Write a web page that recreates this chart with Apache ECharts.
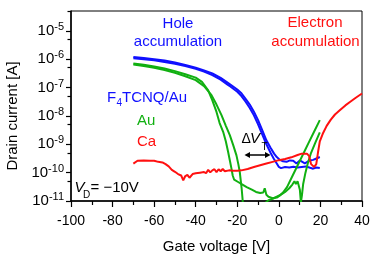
<!DOCTYPE html>
<html><head><meta charset="utf-8">
<script src="https://cdn.jsdelivr.net/npm/echarts@6/dist/echarts.min.js"></script>
<style>html,body{margin:0;padding:0;background:#fff}#c{width:374px;height:259px}</style>
</head><body><div id="c"></div>
<script>
// x axis (gate voltage, V)
const xMin = -100, xMax = 40, xStep = 20;
// y axis: log10 of drain current [A]
const yDecades = [-11, -10, -9, -8, -7, -6, -5];
const yMinorTicks = [-10.301, -9.301, -8.301, -7.301, -6.301, -5.301, -4.301];
const yMin = -11, yMax = -4.301;

// F4TCNQ/Au (blue): [gate voltage V, log10 I]
const f4tcnqSweepA = [[-70,-5.92],[-65,-5.96],[-60,-6.0],[-55,-6.05],[-50,-6.12],[-45,-6.2],[-40,-6.3],[-36,-6.4],[-32,-6.5],[-28,-6.66],[-24,-6.86],[-20,-7.07],[-18,-7.2],[-16,-7.4],[-14,-7.6],[-12,-7.85],[-10,-8.15],[-8,-8.5],[-6,-8.86],[-4,-9.12],[-2.3,-9.33],[-1,-9.45],[0.5,-9.55],[2,-9.6],[3.7,-9.62],[5.3,-9.57],[6.9,-9.58],[8.5,-9.68],[10.1,-9.57],[12.5,-9.67],[14.9,-9.57],[16.5,-9.55],[18.1,-9.5],[19.7,-9.45]];
const f4tcnqSweepB = [[-70,-5.97],[-65,-6.0],[-60,-6.04],[-55,-6.1],[-50,-6.16],[-45,-6.24],[-40,-6.34],[-36,-6.44],[-32,-6.56],[-28,-6.72],[-24,-6.93],[-20,-7.15],[-18,-7.3],[-16,-7.5],[-14,-7.72],[-12,-7.98],[-10,-8.3],[-8,-8.65],[-6,-9.0],[-4,-9.3],[-2.5,-9.5],[-1,-9.68],[0,-9.8],[1,-9.84],[3,-9.8],[5,-9.82],[7,-9.79],[9,-9.82],[11,-9.8],[13,-9.78],[15,-9.83],[16.5,-9.86],[18,-9.82],[19.7,-9.84]];

// Au (green)
const auSweepA = [[-70,-6.15],[-65,-6.2],[-60,-6.26],[-55,-6.33],[-50,-6.42],[-45,-6.53],[-40,-6.65],[-37,-6.8],[-34,-7.1],[-32,-7.45],[-30,-7.86],[-28.5,-8.25],[-26.8,-8.56],[-25.5,-8.9],[-24.4,-9.27],[-23.5,-9.6],[-22.8,-9.86],[-22.2,-10.1],[-21.5,-10.25],[-19.6,-10.33],[-17.5,-10.42],[-15.5,-10.51],[-13,-10.6],[-11,-10.68],[-9,-10.72],[-7.5,-10.7],[-6.8,-10.55],[-6,-10.78],[-5,-10.85],[-3,-10.9],[-1,-10.88],[0.5,-10.8],[2,-10.7],[4,-10.5],[6,-10.2],[8,-9.9],[10,-9.6],[12,-9.3],[14.3,-8.95],[17,-8.55],[19.7,-8.15]];
const auSweepB = [[-70,-6.19],[-65,-6.24],[-60,-6.3],[-55,-6.38],[-50,-6.48],[-45,-6.6],[-40,-6.74],[-36,-6.95],[-32.4,-7.27],[-30,-7.6],[-27.6,-7.97],[-25.5,-8.35],[-23.6,-8.68],[-22,-9.02],[-20.4,-9.39],[-19.5,-9.7],[-18.8,-9.98],[-18.3,-10.3],[-17.9,-10.56],[-17.5,-10.9],[-17.2,-11.2],[-12,-11.4],[-7,-11.1],[-5,-10.97],[-3,-10.92],[-1,-10.85],[1,-10.78],[3,-10.68],[5,-10.55],[6.5,-10.42],[7.5,-10.3],[8.2,-10.4],[9,-10.3],[9.6,-10.28],[10.1,-10.6],[10.6,-11.05],[11.1,-10.8],[11.7,-10.4],[12.8,-10.0],[14,-9.65],[15.5,-9.3],[17.5,-8.95],[19.7,-8.58]];

// Ca (red)
const caSweep = [[-70,-9.68],[-68,-9.58],[-65,-9.57],[-62,-9.58],[-60,-9.58],[-58,-9.62],[-56,-9.64],[-54.5,-9.7],[-53,-9.78],[-51.5,-9.9],[-50,-9.97],[-48.5,-10.05],[-47,-10.1],[-46,-10.27],[-45,-10.12],[-44,-10.08],[-43,-10.18],[-41.5,-10.05],[-40,-10.02],[-38,-10.0],[-36,-9.98],[-35,-10.02],[-34,-9.9],[-33,-9.99],[-32,-9.92],[-31,-9.88],[-30,-9.98],[-29,-9.88],[-28,-9.95],[-27,-9.87],[-26,-9.95],[-24,-9.92],[-22,-9.93],[-20,-9.93],[-18,-9.92],[-15,-9.87],[-12,-9.8],[-9,-9.74],[-6,-9.68],[-3,-9.62],[0,-9.56],[3,-9.52],[6,-9.46],[9,-9.38],[11,-9.33],[13.5,-9.33],[14.6,-9.42],[15.5,-9.7],[17,-9.8],[18,-9.7],[18.8,-9.3],[19.7,-8.9],[21.3,-8.6],[23,-8.35],[25,-8.13],[27,-7.95],[29.3,-7.8],[32,-7.63],[34.2,-7.51],[37,-7.36],[40,-7.21]];

const FONT = '"Liberation Sans", Arial, sans-serif';
const BLUE = '#1010ff', GREEN = '#11b011', RED = '#ff1010';

const chart = echarts.init(document.getElementById('c'), null, {renderer: 'canvas'});
function line(data, color) {
  return {type: 'line', data: data, showSymbol: false, symbol: 'none', clip: true,
    lineStyle: {color: color, width: 2}, itemStyle: {color: color}, animation: false};
}
function txt(x, y, text, size, color, opts) {
  opts = opts || {};
  return {type: 'text', x: x, y: y, silent: true, z: 100,
    style: {text: text, fill: color, font: (opts.italic ? 'italic ' : '') + size + 'px ' + FONT,
      textAlign: opts.align || 'left', textVerticalAlign: 'middle'}};
}
const option = {
  animation: false,
  grid: {left: 71, top: 11, width: 291, height: 190, show: true, borderColor: '#000', borderWidth: 1, backgroundColor: 'transparent'},
  xAxis: {type: 'value', min: xMin, max: xMax, interval: xStep,
    name: 'Gate voltage [V]', nameLocation: 'middle', nameGap: 38,
    nameTextStyle: {fontFamily: FONT, fontSize: 15, color: '#000'},
    axisLine: {onZero: false, lineStyle: {color: '#000', width: 1.5}},
    axisTick: {show: true, length: 6, lineStyle: {color: '#000', width: 1.2}},
    minorTick: {show: true, splitNumber: 2, length: 4, lineStyle: {color: '#000', width: 1.2}},
    splitLine: {show: false},
    axisLabel: {fontFamily: FONT, fontSize: 14, color: '#000', margin: 13}},
  yAxis: [{type: 'value', min: yMin, max: yMax,
    axisLine: {onZero: false, lineStyle: {color: '#000', width: 1.5}},
    axisTick: {show: true, length: 5, customValues: yDecades, lineStyle: {color: '#000', width: 1.2}},
    splitLine: {show: false},
    axisLabel: {customValues: yDecades, margin: 7, color: '#000',
      formatter: function (v) { return '{b|10}{s|' + Math.round(v) + '}'; },
      rich: {b: {fontFamily: FONT, fontSize: 15, lineHeight: 15, padding: [5, 0, 0, 0], verticalAlign: 'bottom', color: '#000'},
             s: {fontFamily: FONT, fontSize: 11, lineHeight: 11, padding: [0, 0, 6, 0], verticalAlign: 'bottom', color: '#000'}}}},
   {type: 'value', min: yMin, max: yMax, position: 'left',
    axisLine: {show: false, onZero: false}, axisLabel: {show: false}, splitLine: {show: false},
    axisTick: {show: true, length: 3.5, customValues: yMinorTicks, lineStyle: {color: '#000', width: 1.2}}}],
  series: [line(f4tcnqSweepA, BLUE), line(f4tcnqSweepB, BLUE),
           line(auSweepA, GREEN), line(auSweepB, GREEN), line(caSweep, RED)],
  graphic: [
    {type: 'text', x: 13, y: 116, rotation: Math.PI / 2, silent: true,
      style: {text: 'Drain current [A]', fill: '#000', font: '15px ' + FONT, textAlign: 'center', textVerticalAlign: 'middle'}},
    txt(178, 24, 'Hole', 15, BLUE, {align: 'center'}),
    txt(178, 42, 'accumulation', 15, BLUE, {align: 'center'}),
    txt(315, 23, 'Electron', 15, RED, {align: 'center'}),
    txt(315.5, 42, 'accumulation', 15, RED, {align: 'center'}),
    txt(107, 98, 'F', 15, BLUE),
    txt(116.5, 103, '4', 10, BLUE),
    txt(122, 98, 'TCNQ/Au', 15, BLUE),
    txt(137, 121, 'Au', 15, GREEN),
    txt(137, 141.5, 'Ca', 15, RED),
    txt(74.5, 187.5, 'V', 15, '#000', {italic: true}),
    txt(83, 195, 'D', 10, '#000'),
    txt(90.5, 187.5, '= \u221210V', 15, '#000'),
    txt(241.5, 139, '\u0394', 14, '#000'),
    txt(250, 139, 'V', 15, '#000', {italic: true}),
    txt(261.5, 147.5, 'T', 10, '#000'),
    {type: 'polyline', silent: true, z: 100, shape: {points: [[247, 155], [268, 155]]}, style: {stroke: '#000', lineWidth: 1.5}},
    {type: 'polygon', silent: true, z: 100, shape: {points: [[244.5, 155], [250, 152], [250, 158]]}, style: {fill: '#000'}},
    {type: 'polygon', silent: true, z: 100, shape: {points: [[270.5, 155], [265, 152], [265, 158]]}, style: {fill: '#000'}}
  ]
};
chart.setOption(option);
</script></body></html>
